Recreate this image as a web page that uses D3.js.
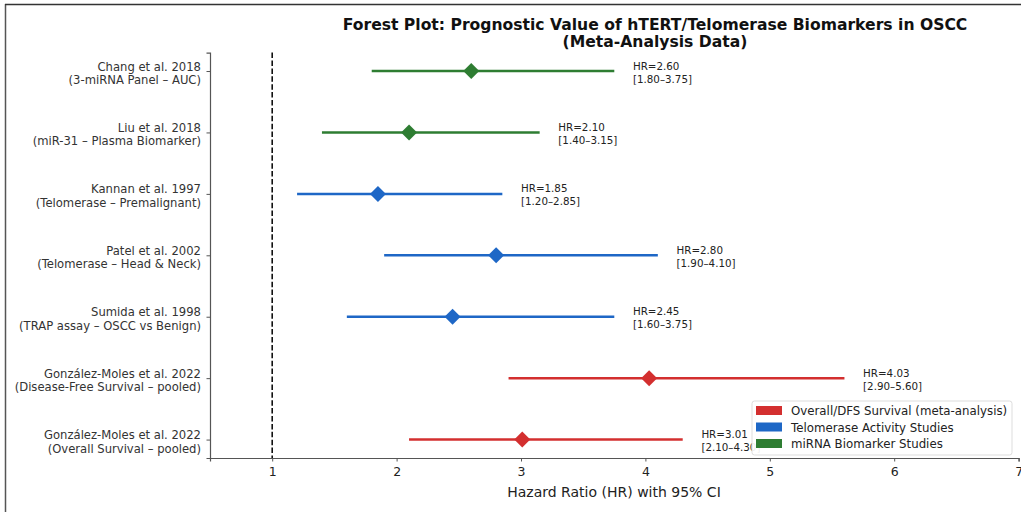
<!DOCTYPE html>
<html><head><meta charset="utf-8">
<script src="https://cdn.jsdelivr.net/npm/d3@7"></script>
<style>
html,body{margin:0;padding:0;background:#fff;}
svg{display:block;font-family:"DejaVu Sans",sans-serif;}
</style></head>
<body>
<script>
const studies = ["Chang et al. 2018","Liu et al. 2018","Kannan et al. 1997","Patel et al. 2002","Sumida et al. 1998","González-Moles et al. 2022","González-Moles et al. 2022"];
const subtitles = ["(3-miRNA Panel – AUC)","(miR-31 – Plasma Biomarker)","(Telomerase – Premalignant)","(Telomerase – Head & Neck)","(TRAP assay – OSCC vs Benign)","(Disease-Free Survival – pooled)","(Overall Survival – pooled)"];
const hr = [2.60, 2.10, 1.85, 2.80, 2.45, 4.03, 3.01];
const ciLow = [1.80, 1.40, 1.20, 1.90, 1.60, 2.90, 2.10];
const ciHigh = [3.75, 3.15, 2.85, 4.10, 3.75, 5.60, 4.30];
const group = ["mirna","mirna","telo","telo","telo","surv","surv"];
const xTicks = [1,2,3,4,5,6,7];
const legendKeys = ["surv","telo","mirna"];
const legendLabels = ["Overall/DFS Survival (meta-analysis)","Telomerase Activity Studies","miRNA Biomarker Studies"];
const colors = {surv:"#d32f2f", telo:"#1e67c6", mirna:"#2e7d32"};

const W=1021,H=512;
const svg=d3.select("body").append("svg").attr("width",W).attr("height",H);

// frame lines
svg.append("line").attr("x1",5.5).attr("x2",5.5).attr("y1",4).attr("y2",H).attr("stroke","#555").attr("stroke-width",1.5);
svg.append("line").attr("x1",5).attr("x2",W).attr("y1",4.5).attr("y2",4.5).attr("stroke","#333").attr("stroke-width",1.5);

const x=d3.scaleLinear().domain([0.5,7]).range([210,1018.6]);
const y=d3.scaleLinear().domain([-0.3,6.3]).range([52.6,458]);
const idx=d3.range(studies.length);

// title
const title=svg.append("text").attr("x",655).attr("y",30).attr("text-anchor","middle")
  .attr("font-weight","bold").attr("font-size",15.6).attr("fill","#111");
title.append("tspan").attr("x",655).attr("dy",0).text("Forest Plot: Prognostic Value of hTERT/Telomerase Biomarkers in OSCC");
title.append("tspan").attr("x",655).attr("dy",17).text("(Meta-Analysis Data)");

// reference line
svg.append("line").attr("x1",x(1)).attr("x2",x(1)).attr("y1",y(-0.3)).attr("y2",y(6.3))
  .attr("stroke","#111").attr("stroke-width",1.6).attr("stroke-dasharray","5.5,2.4");

// axes
const xAxis=svg.append("g").attr("transform",`translate(0,${y(6.3)})`)
  .call(d3.axisBottom(x).tickValues(xTicks).tickFormat(d3.format("d")).tickSizeOuter(0).tickSize(3.5));
xAxis.select(".domain").attr("stroke","#555").attr("stroke-width",1.2);
xAxis.selectAll(".tick line").attr("stroke","#555");
xAxis.selectAll(".tick text").attr("font-size",12.5).attr("fill","#222").attr("font-family","DejaVu Sans").attr("dy","0.95em");

const yAxis=svg.append("g").attr("transform",`translate(${x(0.5)},0)`)
  .call(d3.axisLeft(y).tickValues(idx).tickFormat("").tickSizeOuter(0).tickSize(3.5));
yAxis.select(".domain").attr("stroke","#555").attr("stroke-width",1.2);
yAxis.selectAll(".tick line").attr("stroke","#555");

// y labels
idx.forEach(i=>{
  const t=svg.append("text").attr("text-anchor","end").attr("font-size",11.6).attr("fill","#333");
  t.append("tspan").attr("x",201).attr("y",y(i)-0.5).text(studies[i]);
  t.append("tspan").attr("x",201).attr("y",y(i)+13).text(subtitles[i]);
});

// CI lines
svg.append("g").selectAll("line").data(idx).join("line")
  .attr("x1",i=>x(ciLow[i])).attr("x2",i=>x(ciHigh[i]))
  .attr("y1",i=>y(i)).attr("y2",i=>y(i))
  .attr("stroke",i=>colors[group[i]]).attr("stroke-width",2.5);

// diamonds
const ds=8;
svg.append("g").selectAll("path").data(idx).join("path")
  .attr("d",i=>{const cx=x(hr[i]),cy=y(i);return `M${cx},${cy-ds}L${cx+ds},${cy}L${cx},${cy+ds}L${cx-ds},${cy}Z`;})
  .attr("fill",i=>colors[group[i]]);

// annotations
idx.forEach(i=>{
  const t=svg.append("text").attr("font-size",10.3).attr("fill","#222");
  const tx=x(ciHigh[i]+0.15);
  t.append("tspan").attr("x",tx).attr("y",y(i)-1.5).text("HR="+hr[i].toFixed(2));
  t.append("tspan").attr("x",tx).attr("y",y(i)+11.5).text(`[${ciLow[i].toFixed(2)}–${ciHigh[i].toFixed(2)}]`);
});

// legend
const lg=svg.append("g").attr("transform","translate(752,401)");
lg.append("rect").attr("x",0).attr("y",0).attr("width",260).attr("height",54).attr("rx",2.5)
  .attr("fill","#fff").attr("fill-opacity",0.92).attr("stroke","#ddd").attr("stroke-width",1);
legendKeys.forEach((k,j)=>{
  lg.append("rect").attr("x",4).attr("y",5+j*16.5).attr("width",26).attr("height",9).attr("fill",colors[k]);
  lg.append("text").attr("x",39).attr("y",14+j*16.5).attr("font-size",11.8).attr("fill","#222").text(legendLabels[j]);
});

// x label
svg.append("text").attr("x",614).attr("y",497).attr("text-anchor","middle").attr("font-size",14).attr("fill","#222")
  .text("Hazard Ratio (HR) with 95% CI");
</script>
</body></html>
